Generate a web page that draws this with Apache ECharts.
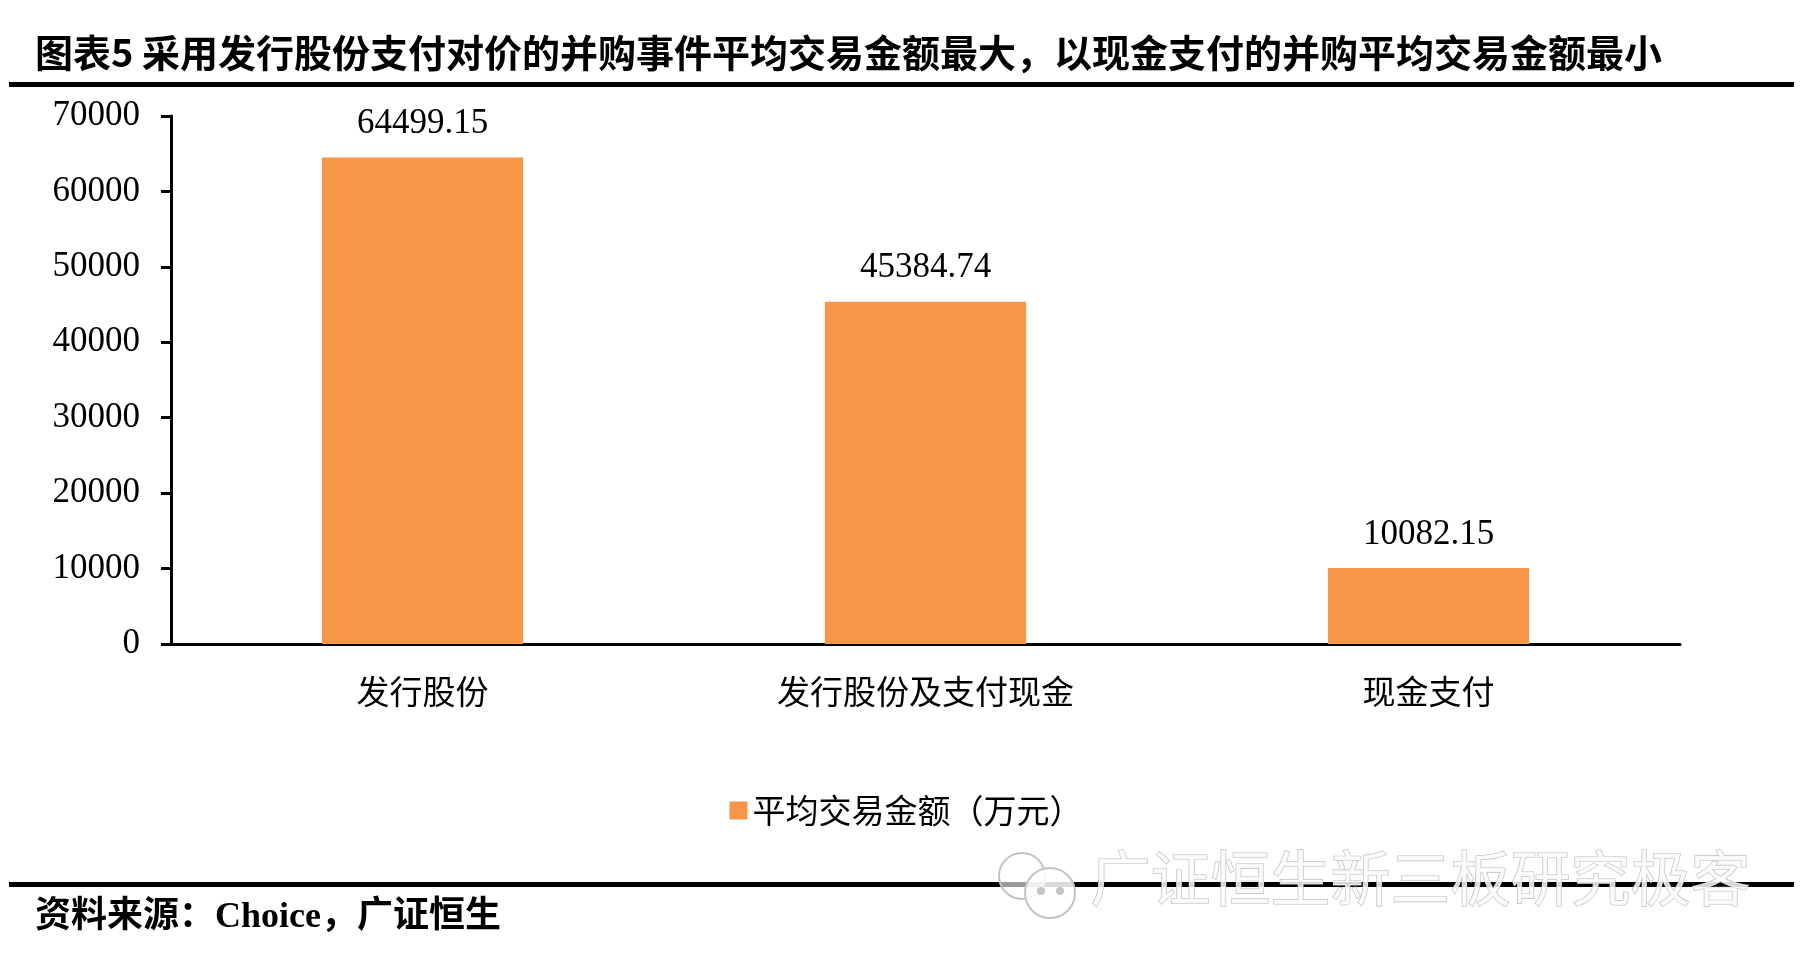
<!doctype html>
<html>
<head>
<meta charset="utf-8">
<title>并购事件平均交易金额</title>
<style>
html, body { margin: 0; padding: 0; background: #fff; }
#main { width: 1812px; height: 975px; }
</style>
</head>
<body>
<div id="main"></div>
<script src="https://cdn.jsdelivr.net/npm/echarts@6/dist/echarts.min.js"></script>
<script>

var categories = ['发行股份', '发行股份及支付现金', '现金支付'];
var avgAmount = [64499.15, 45384.74, 10082.15];
var seriesName = '平均交易金额（万元）';
var yTicks = { min: 0, max: 70000, interval: 10000 };

var titleText = '图表5 采用发行股份支付对价的并购事件平均交易金额最大，以现金支付的并购平均交易金额最小';
var sourceText = '资料来源：Choice，广证恒生';
var watermarkText = '广证恒生新三板研究极客';

var serif = '"Liberation Serif", "Noto Sans CJK SC", serif';
var cjk = '"Noto Sans CJK SC", "Liberation Serif", sans-serif';

var chart = echarts.init(document.getElementById('main'));

chart.setOption({
    animation: false,
    backgroundColor: '#fff',
    grid: {
        left: 171,
        right: 132,
        top: 116,
        bottom: 331
    },
    legend: {
        data: [seriesName],
        top: 789,
        left: 'center',
        icon: 'rect',
        itemWidth: 18,
        itemHeight: 18,
        itemGap: 10,
        textStyle: {
            fontFamily: cjk,
            fontSize: 33,
            color: '#000'
        }
    },
    xAxis: {
        type: 'category',
        data: categories,
        axisLine: { lineStyle: { color: '#000', width: 3 } },
        axisTick: { show: false },
        axisLabel: {
            margin: 31,
            fontFamily: cjk,
            fontSize: 33,
            color: '#000'
        }
    },
    yAxis: {
        type: 'value',
        min: yTicks.min,
        max: yTicks.max,
        interval: yTicks.interval,
        splitLine: { show: false },
        axisLine: { show: true, lineStyle: { color: '#000', width: 3 } },
        axisTick: { show: true, length: 10, lineStyle: { color: '#000', width: 3 } },
        axisLabel: {
            margin: 31,
            fontFamily: serif,
            fontSize: 35,
            color: '#000',
            formatter: function (v) { return String(v); }
        }
    },
    series: [{
        name: seriesName,
        type: 'bar',
        data: avgAmount,
        barCategoryGap: '60%',
        itemStyle: { color: '#F79646' },
        label: {
            show: true,
            position: 'top',
            distance: 16,
            fontFamily: serif,
            fontSize: 35,
            color: '#000',
            formatter: function (p) { return p.value.toFixed(2); }
        }
    }],
    graphic: [
        {
            type: 'text',
            left: 35,
            top: 34,
            style: {
                text: titleText,
                font: 'bold 38px ' + cjk,
                fill: '#000'
            }
        },
        {
            type: 'rect',
            shape: { x: 9, y: 82, width: 1785, height: 5 },
            style: { fill: '#000' }
        },
        {
            type: 'rect',
            shape: { x: 9, y: 882, width: 1785, height: 5 },
            style: { fill: '#000' }
        },
        {
            type: 'text',
            left: 35,
            top: 900,
            style: {
                text: sourceText,
                font: 'bold 36px ' + serif,
                fill: '#000'
            }
        },
        {
            type: 'group',
            z: 100,
            children: [
                {
                    type: 'circle',
                    shape: { cx: 1022, cy: 876, r: 23 },
                    style: { fill: 'rgba(255,255,255,0.6)', stroke: '#c4c4c4', lineWidth: 2 }
                },
                {
                    type: 'circle',
                    shape: { cx: 1050, cy: 893, r: 25 },
                    style: { fill: 'rgba(255,255,255,0.85)', stroke: '#c4c4c4', lineWidth: 2 }
                },
                {
                    type: 'circle',
                    shape: { cx: 1041, cy: 891, r: 4 },
                    style: { fill: '#c4c4c4' }
                },
                {
                    type: 'circle',
                    shape: { cx: 1060, cy: 891, r: 4 },
                    style: { fill: '#c4c4c4' }
                },
                {
                    type: 'text',
                    left: 1090,
                    top: 848,
                    style: {
                        text: watermarkText,
                        font: '60px ' + cjk,
                        fill: 'rgba(250,250,250,0.85)',
                        stroke: '#bdbdbd',
                        lineWidth: 1.2
                    }
                }
            ]
        }
    ]
});
</script>
</body>
</html>
